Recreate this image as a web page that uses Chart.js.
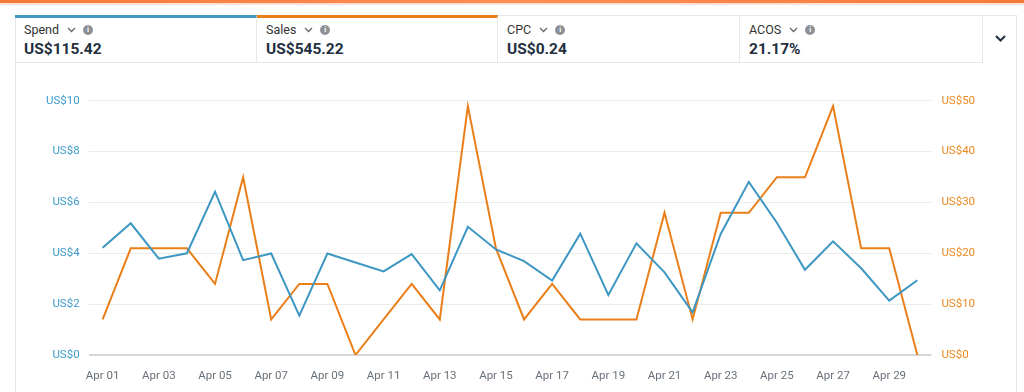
<!DOCTYPE html>
<html>
<head>
<meta charset="utf-8">
<script src="https://cdn.jsdelivr.net/npm/chart.js@4.4.1/dist/chart.umd.min.js"></script>
<style>
  html, body { margin:0; padding:0; width:1024px; height:392px; overflow:hidden; background:#fff; font-family: Roboto, "Noto Sans", sans-serif; }
  .topbar { position:absolute; left:0; top:0; width:1024px; height:3px; background:linear-gradient(90deg,#f47a3a,#ff8c52 50%,#f47a3a); }
  .topbar2 { position:absolute; left:0; top:3px; width:1024px; height:2px; background:#fde3d6; }
  .panel { position:absolute; left:15px; top:15px; width:1002px; height:380px; border-left:1px solid #e6e6e6; border-right:1px solid #e6e6e6; border-top:1px solid #e6e6e6; box-sizing:border-box; }
  .card { position:absolute; top:15px; height:48px; box-sizing:border-box; border-right:1px solid #e8e8e8; border-bottom:1px solid #e8e8e8; border-top:1px solid #e8e8e8; }
  .card .lab { position:absolute; left:9px; top:6px; font-size:12.5px; color:#333; display:flex; align-items:center; }
  .card .val { position:absolute; left:9px; top:24px; font-size:15.5px; font-weight:700; color:#232f3e; }
  .chev { margin-left:8px; }
  .info { display:inline-block; width:10px; height:10px; border-radius:50%; background:#8d9096; color:#fff; font-size:7.5px; line-height:10px; text-align:center; font-weight:700; margin-left:7px; }
  #wrap { position:absolute; left:0; top:62px; width:1024px; height:330px; }
</style>
</head>
<body>
<div class="topbar"></div>
<div class="topbar2"></div>
<div class="panel"></div>
<div class="card" style="left:15px;width:242px;border-top:3px solid #3d97c2;"><div class="lab" style="top:4px">Spend<svg class="chev" width="9" height="6" viewBox="0 0 9 6"><polyline points="1,1 4.5,4.5 8,1" fill="none" stroke="#666" stroke-width="1.3"/></svg><span class="info">i</span></div><div class="val" style="top:22px">US$115.42</div></div>
<div class="card" style="left:257px;width:241px;border-top:3px solid #ea7f1a;"><div class="lab" style="top:4px">Sales<svg class="chev" width="9" height="6" viewBox="0 0 9 6"><polyline points="1,1 4.5,4.5 8,1" fill="none" stroke="#666" stroke-width="1.3"/></svg><span class="info">i</span></div><div class="val" style="top:22px">US$545.22</div></div>
<div class="card" style="left:498px;width:242px;"><div class="lab">CPC<svg class="chev" width="9" height="6" viewBox="0 0 9 6"><polyline points="1,1 4.5,4.5 8,1" fill="none" stroke="#666" stroke-width="1.3"/></svg><span class="info">i</span></div><div class="val">US$0.24</div></div>
<div class="card" style="left:740px;width:243px;"><div class="lab">ACOS<svg class="chev" width="9" height="6" viewBox="0 0 9 6"><polyline points="1,1 4.5,4.5 8,1" fill="none" stroke="#666" stroke-width="1.3"/></svg><span class="info">i</span></div><div class="val">21.17%</div></div>
<svg style="position:absolute;left:995px;top:35px" width="11" height="7" viewBox="0 0 11 7"><polyline points="1,1 5.5,5.5 10,1" fill="none" stroke="#232f3e" stroke-width="2"/></svg>
<div id="wrap"><canvas id="c"></canvas></div>
<script>
const categories = ['Apr 01','Apr 02','Apr 03','Apr 04','Apr 05','Apr 06','Apr 07','Apr 08','Apr 09','Apr 10',
  'Apr 11','Apr 12','Apr 13','Apr 14','Apr 15','Apr 16','Apr 17','Apr 18','Apr 19','Apr 20',
  'Apr 21','Apr 22','Apr 23','Apr 24','Apr 25','Apr 26','Apr 27','Apr 28','Apr 29','Apr 30'];
const spend = [4.22,5.18,3.79,4.00,6.42,3.73,3.99,1.55,3.99,3.64,3.29,3.97,2.54,5.04,4.15,3.69,2.93,4.77,2.36,4.39,3.25,1.68,4.76,6.81,5.20,3.35,4.47,3.41,2.14,2.94];
const sales = [6.99,20.97,20.97,20.97,13.98,34.95,6.99,13.98,13.98,0,6.99,13.98,6.99,48.93,20.97,6.99,13.98,6.99,6.99,6.99,27.96,6.99,27.96,27.96,34.95,34.95,48.93,20.97,20.97,0];
const leftTicks = ['US$0','US$2','US$4','US$6','US$8','US$10'];
const rightTicks = ['US$0','US$10','US$20','US$30','US$40','US$50'];

const BLUE = '#3d97c2', ORANGE = '#ea7f1a';
new Chart(document.getElementById('c'), {
  type: 'line',
  data: {
    labels: categories,
    datasets: [
      { label:'Spend', data: spend, yAxisID:'y', borderColor: BLUE, borderWidth:2, pointRadius:0, tension:0, fill:false },
      { label:'Sales', data: sales, yAxisID:'y1', borderColor: ORANGE, borderWidth:2, pointRadius:0, tension:0, fill:false }
    ]
  },
  options: {
    responsive:true, maintainAspectRatio:false, animation:false,
    layout:{ padding:{ top:38.7, left:0, right:0, bottom:0 } },
    plugins:{ legend:{display:false}, tooltip:{enabled:false} },
    scales:{
      x:{
        offset:true,
        grid:{ display:false },
        border:{ display:false },
        afterFit: s => { s.height = 37; },
        ticks:{ autoSkip:false, maxRotation:0, padding:6, color:'#687078', font:{ family:'Roboto', size:11.5 },
          callback:(v,i) => i % 2 === 0 ? categories[i] : '' }
      },
      y:{
        position:'left', min:0, max:10,
        afterFit: s => { s.width = 88.6; },
        border:{ display:false },
        grid:{ drawTicks:false, color: c => c.tick.value === 0 ? '#d6d6d6' : '#ebebeb', lineWidth: c => c.tick.value === 0 ? 2 : 1 },
        ticks:{ stepSize:2, padding:9, color:'#3e9bcb', font:{ family:'Roboto', size:11.5 },
          callback:(v,i) => leftTicks[i] }
      },
      y1:{
        position:'right', min:0, max:50,
        afterFit: s => { s.width = 92.6; },
        border:{ display:false },
        grid:{ drawOnChartArea:false, drawTicks:false },
        ticks:{ stepSize:10, padding:10, color:'#ec8a22', font:{ family:'Roboto', size:11.5 },
          callback:(v,i) => rightTicks[i] }
      }
    }
  }
});
</script>
</body>
</html>
